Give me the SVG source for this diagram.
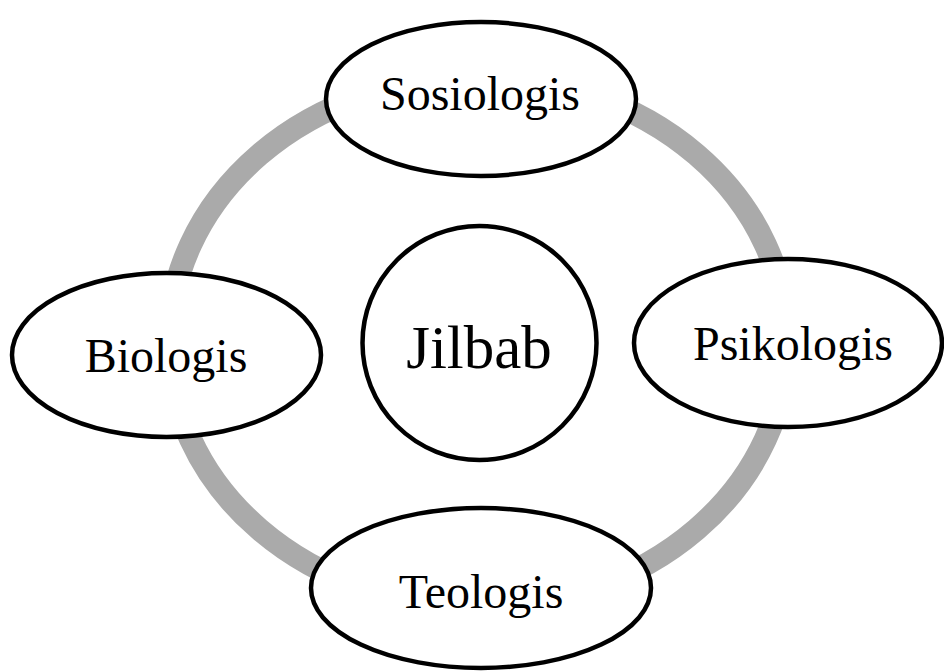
<svg xmlns="http://www.w3.org/2000/svg" width="944" height="672" viewBox="0 0 944 672">
<style>
.node{fill:#fff;stroke:#000;stroke-width:4.5}
.lbl{font-family:"Liberation Serif","Times New Roman",serif;font-size:48px;fill:#000;text-anchor:middle}
</style>
<rect width="944" height="672" fill="#fff"/>
<g id="connectors">
<ellipse cx="478" cy="342" rx="309" ry="265" fill="none" stroke="#aaaaaa" stroke-width="23"/>
</g>
<g id="sosiologis">
<ellipse class="node" cx="481" cy="99" rx="155" ry="77"/>
<text class="lbl" x="480" y="110">Sosiologis</text>
</g>
<g id="biologis">
<ellipse class="node" cx="166.5" cy="355" rx="154.5" ry="82"/>
<text class="lbl" x="166" y="372">Biologis</text>
</g>
<g id="psikologis">
<ellipse class="node" cx="788" cy="343" rx="154" ry="84"/>
<text class="lbl" x="793" y="360">Psikologis</text>
</g>
<g id="teologis">
<ellipse class="node" cx="481" cy="588" rx="170" ry="80"/>
<text class="lbl" x="481" y="608">Teologis</text>
</g>
<g id="jilbab">
<circle class="node" cx="479.5" cy="343" r="117"/>
<text class="lbl" x="479" y="368" style="font-size:61px">Jilbab</text>
</g>
</svg>
